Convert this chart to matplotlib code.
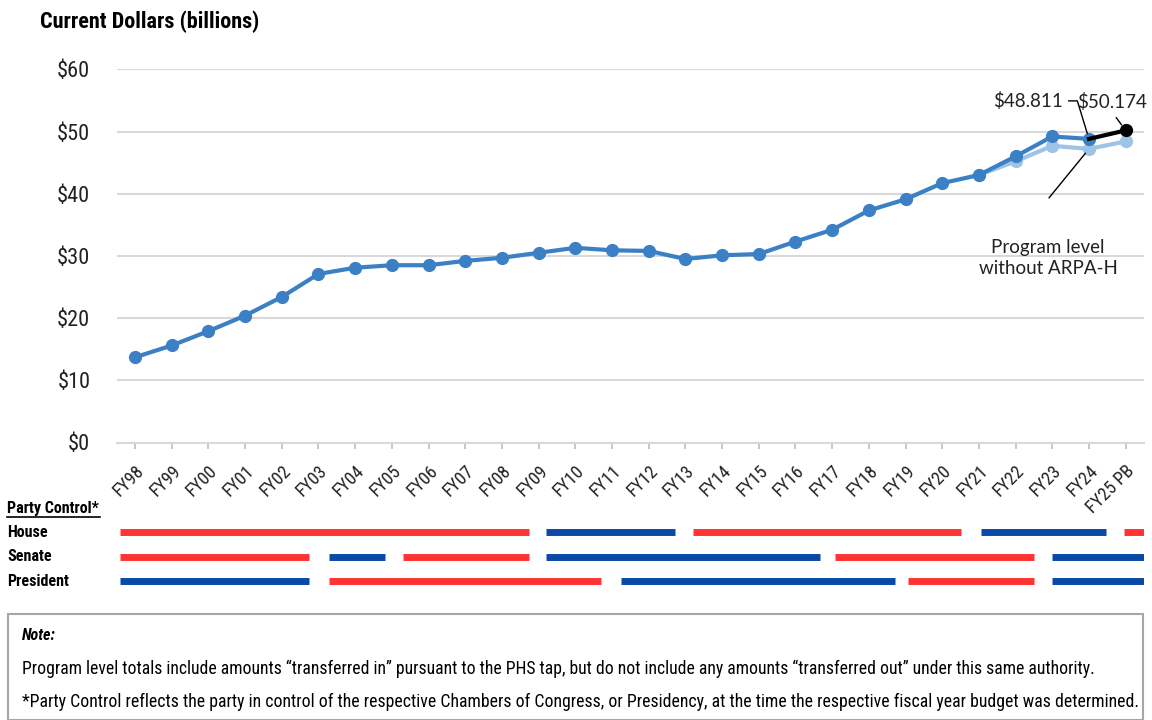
import matplotlib
matplotlib.use("Agg")
import matplotlib.pyplot as plt
import matplotlib.transforms as mtransforms
from matplotlib.patches import Rectangle

# fiscal years on the x axis
years = ['FY98', 'FY99', 'FY00', 'FY01', 'FY02', 'FY03', 'FY04', 'FY05', 'FY06',
         'FY07', 'FY08', 'FY09', 'FY10', 'FY11', 'FY12', 'FY13', 'FY14', 'FY15',
         'FY16', 'FY17', 'FY18', 'FY19', 'FY20', 'FY21', 'FY22', 'FY23', 'FY24',
         'FY25 PB']

# program level, current dollars (billions), FY98..FY24
program = [13.7, 15.6, 17.9, 20.4, 23.4, 27.1, 28.1, 28.5, 28.5, 29.2, 29.7,
           30.5, 31.3, 30.9, 30.8, 29.5, 30.1, 30.3, 32.3, 34.2, 37.3, 39.1,
           41.7, 43.0, 46.0, 49.2, 48.811]
# FY24 -> FY25 PB request
request = [48.811, 50.174]
# program level without ARPA-H, FY21..FY25 PB
no_arpa = [43.0, 45.2, 47.7, 47.2, 48.4]

# party control segments (start, end, party) in fiscal-year index units
house = [(-0.40, 10.73, 'R'), (11.19, 14.73, 'D'), (15.22, 22.50, 'R'),
         (23.07, 26.47, 'D'), (26.95, 27.52, 'R')]
senate = [(-0.40, 4.75, 'R'), (5.28, 6.81, 'D'), (7.29, 10.73, 'R'),
          (11.19, 18.67, 'D'), (19.09, 24.49, 'R'), (24.98, 27.52, 'D')]
president = [(-0.40, 4.75, 'D'), (5.28, 12.69, 'R'), (13.24, 20.71, 'D'),
             (21.08, 24.49, 'R'), (24.98, 27.52, 'D')]
chambers = ['House', 'Senate', 'President']

dark = '#3b7fc4'
light = '#9dc3e6'
party_colors = {'R': '#ff3333', 'D': '#0a4aa6'}
grid_c = '#d9d9d9'
narrow = ['Roboto Condensed', 'DejaVu Sans']
regular = ['Lato', 'DejaVu Sans']

W, H = 1152, 720
fig = plt.figure(figsize=(W / 100, H / 100), dpi=100)


def px(x0, y0, x1, y1):
    # pixel box -> figure fraction rect
    return [x0 / W, 1 - y1 / H, (x1 - x0) / W, (y1 - y0) / H]


ax = fig.add_axes(px(116.7, 69.3, 1144, 442.5))
x_all = list(range(len(years)))

ax.plot(x_all[-len(no_arpa):], no_arpa, color=light, lw=3, marker='o', ms=8.5,
        solid_capstyle='round', zorder=2)
ax.plot(x_all[:len(program)], program, color=dark, lw=3, marker='o', ms=8.5,
        solid_capstyle='round', zorder=3)
ax.plot(x_all[-2:], request, color='black', lw=3, zorder=4)
ax.plot(x_all[-1], request[-1], 'o', color='black', ms=8.5, zorder=5)

ax.set_xlim(-0.5, len(years) - 0.5)
ax.set_ylim(0, 60)
ax.set_yticks(range(0, 61, 10))
ax.set_yticklabels([f'${v}' for v in range(0, 61, 10)], family=narrow, fontsize=16)
ax.set_xticks(x_all)
ax.set_xticklabels(years, rotation=45, ha='right', rotation_mode='anchor',
                   family=narrow, fontsize=13)
ax.tick_params(axis='y', length=0, pad=19, colors='#222222')
ax.tick_params(axis='x', length=4, width=1.2, color='#bfbfbf', pad=10,
               labelcolor='#222222')
ax.grid(axis='y', color=grid_c, lw=1.5)
ax.set_axisbelow(True)
for s in ['top', 'right', 'left']:
    ax.spines[s].set_visible(False)
ax.spines['bottom'].set_color(grid_c)
ax.spines['bottom'].set_linewidth(1.5)

# annotations
ax.annotate('$48.811', xy=(26, request[0]), xytext=(-26, 38), textcoords='offset pixels',
            ha='right', va='center', family=regular, fontsize=13.5, color='#222222',
            arrowprops=dict(arrowstyle='-', color='black', lw=1, shrinkA=2, shrinkB=4,
                            relpos=(1, 0.5),
                            connectionstyle='angle,angleA=0,angleB=107,rad=0'))
ax.annotate('$50.174', xy=(27, request[1]), xytext=(-14, 28), textcoords='offset pixels',
            ha='center', va='center', family=regular, fontsize=13.5, color='#222222',
            arrowprops=dict(arrowstyle='-', color='black', lw=1, shrinkA=3, shrinkB=5,
                            relpos=(0.5, 0)))
ax.annotate('', xy=(26, no_arpa[3]), xytext=(-40, -49), textcoords='offset pixels',
            arrowprops=dict(arrowstyle='-', color='black', lw=1, shrinkA=0, shrinkB=4))
ax.annotate('Program level\nwithout ARPA-H', xy=(26, no_arpa[3]), xytext=(-41, -109),
            textcoords='offset pixels', ha='center', va='center', family=regular,
            fontsize=13.5, color='#222222', linespacing=1.3)

fig.text(40 / W, 1 - 22 / H, 'Current Dollars (billions)', family=narrow,
         fontweight='bold', fontsize=16, va='center', ha='left')

# party control strip
axp = fig.add_axes(px(116.7, 520.2, 1144, 593.2))
axp.set_xlim(ax.get_xlim())
axp.set_ylim(2.5, -0.5)
axp.axis('off')
for row, segs in enumerate([house, senate, president]):
    for x0, x1, party in segs:
        axp.hlines(row, x0, x1, color=party_colors[party], lw=5)

trans = mtransforms.blended_transform_factory(fig.transFigure, axp.transData)
for row, name in enumerate(chambers):
    axp.text(7 / W, row, name, transform=trans, ha='left', va='center',
             family=narrow, fontweight='bold', fontsize=11.5)
fig.text(7 / W, 1 - 508 / H, 'Party Control*', family=narrow, fontweight='bold',
         fontsize=11.5, va='center', ha='left')
fig.add_artist(plt.Line2D([7 / W, 100 / W], [1 - 517 / H, 1 - 517 / H],
                          color='black', lw=1.2))

# note box
fig.add_artist(Rectangle((8 / W, 0), (1143 - 8) / W, 1 - 614 / H,
                         transform=fig.transFigure, fill=False,
                         edgecolor='#a6a6a6', lw=1.5))
fig.text(22 / W, 1 - 636 / H, 'Note:', family=narrow, fontweight='bold',
         style='italic', fontsize=11.5, va='center')
notes = [
    'Program level totals include amounts \u201ctransferred in\u201d pursuant to the '
    'PHS tap, but do not include any amounts \u201ctransferred out\u201d under this '
    'same authority.',
    '*Party Control reflects the party in control of the respective Chambers of '
    'Congress, or Presidency, at the time the respective fiscal year budget was '
    'determined.',
]
note_right = [1087, 1135]
renderer = fig.canvas.get_renderer()
for i, (line, right) in enumerate(zip(notes, note_right)):
    t = fig.text(22 / W, 1 - (669 + 33 * i) / H, line, family=narrow, fontsize=12,
                 va='center')
    w = t.get_window_extent(renderer).width
    t.set_fontsize(12 * (right - 22) / w)

fig.savefig('out.png', dpi=100)
